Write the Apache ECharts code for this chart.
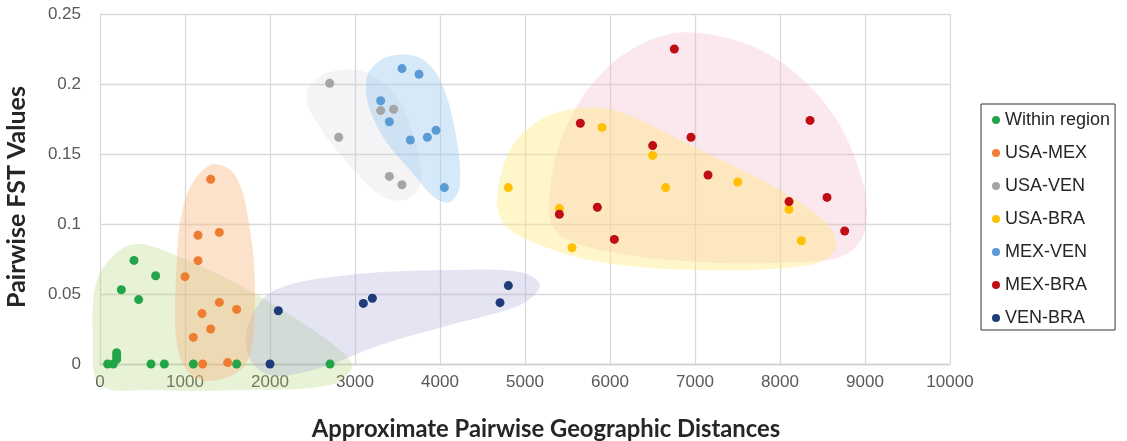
<!DOCTYPE html>
<html>
<head>
<meta charset="utf-8">
<script src="https://cdn.jsdelivr.net/npm/echarts@6/dist/echarts.min.js"></script>
<style>
html,body{margin:0;padding:0;background:#fff;}
#chart{width:1127px;height:441px;}
</style>
</head>
<body>
<div id="chart"></div>
<script>
// ---- data (distance, FST) ----
const seriesNames = ['Within region','USA-MEX','USA-VEN','USA-BRA','MEX-VEN','MEX-BRA','VEN-BRA'];
const withinRegion = [[90,0],[157,0],[196,0.0033],[196,0.0057],[196,0.008],[251,0.053],[400,0.074],[455,0.046],[600,0],[655,0.063],[757,0],[1098,0],[1608,0],[2706,0]];
const usaMex = [[1000,0.0624],[1098,0.019],[1153,0.092],[1153,0.0738],[1200,0.036],[1208,0],[1302,0.132],[1302,0.025],[1404,0.094],[1404,0.044],[1502,0.001],[1608,0.039]];
const usaVen = [[2702,0.2005],[2808,0.162],[3302,0.181],[3455,0.182],[3404,0.134],[3553,0.128]];
const usaBra = [[4804,0.126],[5404,0.111],[5553,0.083],[5906,0.169],[6502,0.149],[6655,0.126],[7502,0.130],[8106,0.1105],[8251,0.088]];
const mexVen = [[3302,0.188],[3404,0.173],[3553,0.211],[3651,0.16],[3753,0.207],[3851,0.162],[3953,0.167],[4051,0.126]];
const mexBra = [[5404,0.107],[5651,0.172],[5851,0.112],[6051,0.089],[6502,0.156],[6757,0.225],[6953,0.162],[7153,0.135],[8106,0.116],[8353,0.174],[8553,0.119],[8761,0.095]];
const venBra = [[2000,0],[2098,0.038],[3098,0.0433],[3204,0.047],[4706,0.0438],[4804,0.056]];

// ---- shaded cluster outlines (data coordinates) ----
const blobWithin = [[-82,0.0171],[-35,0.06],[235,0.0814],[471,0.0857],[882,0.0779],[1529,0.06],[2235,0.035],[2824,0.01],[2965,-0.0029],[2706,-0.015],[1765,-0.0186],[588,-0.0186],[0,-0.015]];
const blobUsaMex = [[1294,0.1421],[1588,0.135],[1765,0.0957],[1824,0.0457],[1741,0.0029],[1471,-0.01],[1118,-0.01],[918,0.01],[894,0.06],[1000,0.1171]];
const blobVenBra = [[1765,0.0314],[2059,0.0529],[2941,0.0636],[4118,0.0671],[4941,0.0657],[5176,0.0564],[4941,0.0421],[4118,0.0279],[3294,0.0136],[2588,-0.0029],[2000,-0.0079],[1741,0.0064]];
const blobUsaVen = [[2471,0.1993],[2706,0.2086],[3118,0.2086],[3471,0.1921],[3706,0.16],[3765,0.1279],[3588,0.1171],[3294,0.1207],[2882,0.1457],[2529,0.1743],[2435,0.1886]];
const blobMexVen = [[3176,0.21],[3412,0.22],[3765,0.2186],[4000,0.2029],[4176,0.1671],[4235,0.1279],[4118,0.1157],[3941,0.1186],[3647,0.1386],[3353,0.16],[3176,0.1814],[3129,0.1971]];
const blobUsaBra = [[4671,0.1171],[4824,0.1529],[5176,0.1743],[5647,0.1829],[6118,0.18],[7059,0.1529],[8000,0.1243],[8565,0.0993],[8647,0.0814],[8353,0.0707],[7059,0.0671],[5882,0.0729],[5176,0.085],[4765,0.0993]];
const blobMexBra = [[5294,0.1243],[5471,0.1671],[5882,0.2064],[6471,0.2314],[7059,0.2364],[7882,0.2207],[8588,0.1814],[8965,0.1314],[9000,0.0957],[8765,0.0779],[8235,0.0729],[7059,0.0729],[5882,0.0814],[5353,0.0957]];

const pointColors = ['#22a447','#ed7d31','#a5a5a5','#ffc000','#5b9bd5','#c00d14','#1f3b78'];
const blobs = [
  [blobMexBra,'rgba(243,175,198,0.30)'],
  [blobUsaBra,'rgba(255,232,120,0.40)'],
  [blobUsaVen,'rgba(205,205,215,0.22)'],
  [blobMexVen,'rgba(150,200,240,0.40)'],
  [blobWithin,'rgba(170,210,110,0.28)'],
  [blobVenBra,'rgba(165,165,215,0.30)'],
  [blobUsaMex,'rgba(248,180,125,0.40)']
];

const chart = echarts.init(document.getElementById('chart'));
const font = '"Liberation Sans", Arial, sans-serif';
const titleFont = 'Lato, "Open Sans", sans-serif';

const blobSeries = blobs.map(function(b){
  const pts = b[0], fill = b[1];
  return {
    type:'custom', silent:true, z:1, clip:false,
    data:[[0,0]],
    renderItem:function(params, api){
      return {type:'polygon', shape:{points: pts.map(function(p){return api.coord(p);}), smooth:0.35}, style:{fill:fill}};
    }
  };
});

const pointData = [withinRegion,usaMex,usaVen,usaBra,mexVen,mexBra,venBra];
const pointSeries = seriesNames.map(function(n,i){
  return {name:n, type:'scatter', z:5, symbol:'circle', symbolSize:9, data:pointData[i],
    itemStyle:{color:pointColors[i], opacity:1}};
});

chart.setOption({
  animation:false,
  backgroundColor:'#fff',
  color: pointColors,
  grid:{left:100, right:177, top:14, bottom:77, containLabel:false, outerBoundsMode:'none'},
  xAxis:{type:'value', min:0, max:10000, interval:1000,
    name:'Approximate Pairwise Geographic Distances', nameLocation:'middle', nameGap:53,
    nameTextStyle:{fontFamily:titleFont, fontWeight:'bold', fontSize:23.8, color:'#262626', padding:[0,0,0,42]},
    axisLine:{show:true, lineStyle:{color:'#d0d0d0', width:1.3}},
    axisTick:{show:false},
    axisLabel:{fontFamily:font, fontSize:17, color:'#595959', margin:10, formatter:function(v){return String(v);}},
    splitLine:{show:true, lineStyle:{color:'#dadada', width:1.3}}
  },
  yAxis:{type:'value', min:0, max:0.25, interval:0.05,
    name:'Pairwise FST Values', nameLocation:'middle', nameGap:71,
    nameTextStyle:{fontFamily:titleFont, fontWeight:'bold', fontSize:25, color:'#262626', padding:[0,16,0,0]},
    axisLine:{show:false}, axisTick:{show:false},
    axisLabel:{fontFamily:font, fontSize:17, color:'#595959', margin:19},
    splitLine:{show:true, lineStyle:{color:'#dadada', width:1.3}}
  },
  legend:{
    data: seriesNames, orient:'vertical', left:981, top:104,
    itemWidth:8, itemHeight:8, itemGap:13, icon:'circle',
    padding:[6,5,2,11], borderColor:'#333', borderWidth:1,
    selectedMode:false,
    textStyle:{fontFamily:font, fontSize:18, color:'#262626', lineHeight:20}
  },
  series: blobSeries.concat(pointSeries)
});
</script>
</body>
</html>
